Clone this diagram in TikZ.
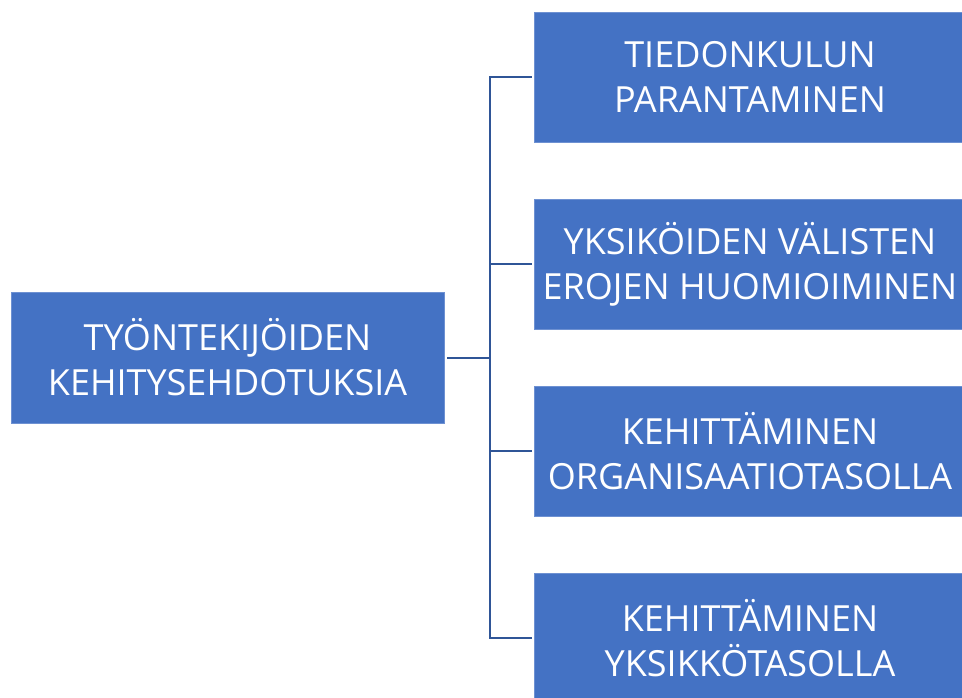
\documentclass[tikz,border=0pt]{standalone}
\usepackage{fontspec}
\setmainfont{Open Sans}
\usetikzlibrary{trees}
\definecolor{laatikko}{RGB}{68,114,196}
\definecolor{reuna}{RGB}{110,145,210}
\definecolor{viiva}{RGB}{47,85,151}

\begin{document}
\begin{tikzpicture}[
		grow'=right,
		level distance=522.5pt,
		every node/.style={rectangle,fill=laatikko,draw=reuna,line width=0.6pt,text=white,
			inner sep=0pt,align=center,font=\fontsize{36}{45}\selectfont},
		level 1/.style={sibling distance=187pt},
		edge from parent/.style={draw=viiva,line width=2pt},
		edge from parent path={(\tikzparentnode.east) ++(3pt,0) -- ++(43pt,0) |- ([xshift=-2pt]\tikzchildnode.west)}
		]
		\useasboundingbox (0,0) rectangle (962pt,-698pt);
		\node[minimum width=433pt,minimum height=131pt] (juuri) at (227.5pt,-357.5pt) {TYÖNTEKIJÖIDEN\\KEHITYSEHDOTUKSIA}
		child {node[minimum width=432pt,minimum height=130pt] (tieto) {TIEDONKULUN\\PARANTAMINEN}}
		child {node[minimum width=432pt,minimum height=130pt] (erot) {YKSIKÖIDEN VÄLISTEN\\EROJEN HUOMIOIMINEN}}
		child {node[minimum width=432pt,minimum height=130pt] (organisaatio) {KEHITTÄMINEN\\ORGANISAATIOTASOLLA}}
		child {node[minimum width=432pt,minimum height=130pt] (yksikko) {KEHITTÄMINEN\\YKSIKKÖTASOLLA}}
		;
	\end{tikzpicture}
\end{document}
